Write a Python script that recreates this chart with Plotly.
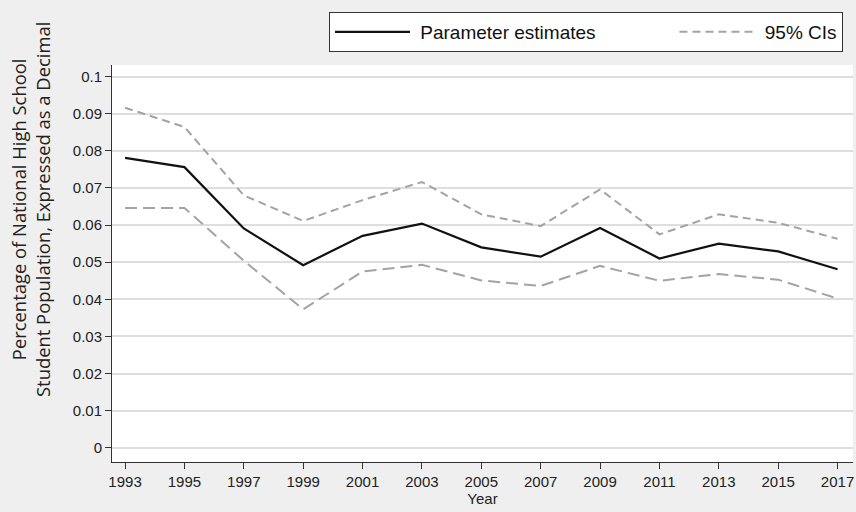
import plotly.graph_objects as go

years = [1993, 1995, 1997, 1999, 2001, 2003, 2005, 2007, 2009, 2011, 2013, 2015, 2017]
estimates = [0.0781, 0.0756, 0.0591, 0.0492, 0.0571, 0.0604, 0.0540, 0.0515, 0.0592, 0.0510, 0.0550, 0.0529, 0.0481]
upper_ci = [0.0916, 0.0864, 0.0680, 0.0611, 0.0667, 0.0716, 0.0629, 0.0597, 0.0696, 0.0575, 0.0629, 0.0606, 0.0563]
lower_ci = [0.0646, 0.0646, 0.0504, 0.0373, 0.0475, 0.0493, 0.0451, 0.0436, 0.0490, 0.0450, 0.0468, 0.0453, 0.0402]
y_ticks = [0, 0.01, 0.02, 0.03, 0.04, 0.05, 0.06, 0.07, 0.08, 0.09, 0.1]
y_tick_labels = ["0", "0.01", "0.02", "0.03", "0.04", "0.05", "0.06", "0.07", "0.08", "0.09", "0.1"]

W, H = 856, 512
ML, MR, MT, MB = 112, 3, 65, 50
PW, PH = W - ML - MR, H - MT - MB

ci_color = "#a3a3a3"
fig = go.Figure()
fig.add_trace(go.Scatter(x=years, y=estimates, mode="lines",
                         name="\u00a0Parameter estimates" + "\u00a0" * 14,
                         line=dict(color="#111111", width=2.2)))
fig.add_trace(go.Scatter(x=years, y=upper_ci, mode="lines", name="\u00a095% CIs",
                         line=dict(color=ci_color, width=2, dash="8px,5px")))
fig.add_trace(go.Scatter(x=years, y=lower_ci, mode="lines", name="95% CIs", showlegend=False,
                         line=dict(color=ci_color, width=2, dash="12px,6px")))

fig.add_annotation(
    text="Percentage of National High School<br>Student Population, Expressed as a Decimal",
    textangle=-90, xref="paper", yref="paper",
    x=(30 - ML) / PW, y=(H - MB - 210) / PH, xanchor="center", yanchor="middle",
    showarrow=False, font=dict(family="Open Sans, Noto Sans, sans-serif", size=18.4, color="#222222"),
)

fig.update_layout(
    width=W, height=H,
    paper_bgcolor="#efefef", plot_bgcolor="#ffffff",
    margin=dict(l=ML, r=MR, t=MT, b=MB, autoexpand=False),
    font=dict(family="Liberation Sans, Arial, sans-serif", color="#222222", size=15),
    legend=dict(orientation="h", x=(843 - ML) / PW, xanchor="right",
                y=(H - MB - 12) / PH, yanchor="top",
                bgcolor="#ffffff", bordercolor="#333333", borderwidth=1,
                font=dict(size=19, color="#111111"), itemwidth=75,
                tracegroupgap=0),
    xaxis=dict(range=[1992.56, 2017.52], tickmode="array", tickvals=years,
               ticks="outside", ticklen=6, tickcolor="#333333", showgrid=False,
               showline=True, linecolor="#333333", linewidth=1, zeroline=False,
               title=dict(text="Year", font=dict(size=15), standoff=0),
               tickfont=dict(size=15), automargin=False),
    yaxis=dict(range=[-0.0038, 0.1031], tickmode="array", tickvals=y_ticks, ticktext=y_tick_labels,
               ticks="outside", ticklen=6, tickcolor="#333333",
               showgrid=True, gridcolor="#dedede", gridwidth=1.5,
               showline=True, linecolor="#333333", linewidth=1, zeroline=False,
               tickfont=dict(size=15), automargin=False),
)
fig.write_html("out.html", config={"displayModeBar": False},
               post_script="document.body.style.margin='0px';")
